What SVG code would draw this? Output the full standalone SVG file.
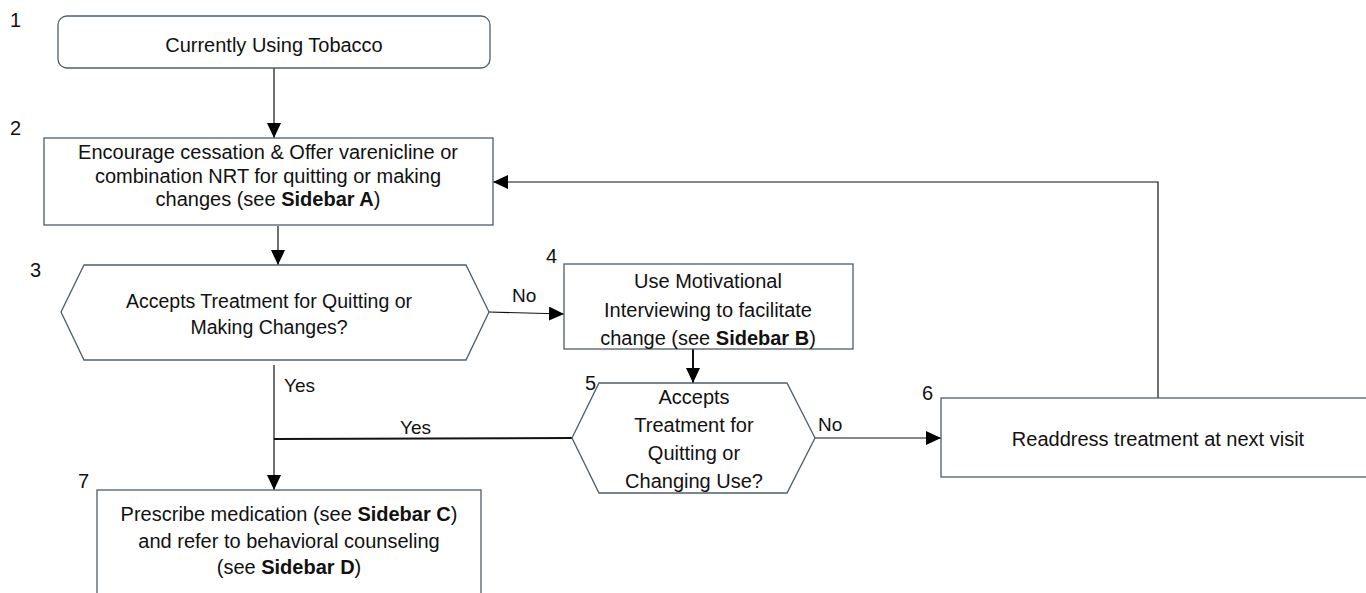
<svg xmlns="http://www.w3.org/2000/svg" width="1366" height="593" viewBox="0 0 1366 593">
<style>
text{font-family:"Liberation Sans",Arial,sans-serif;font-size:20px;fill:#111}
.c{text-anchor:middle}
.b{font-weight:bold}
.box{fill:#fff;stroke:#4d5d6b;stroke-width:1.3}
.ln{fill:none;stroke:#111;stroke-width:1.2}
.lbl{font-size:19px}
.num{font-size:20px}
</style>
<defs>
<marker id="ah" markerUnits="userSpaceOnUse" markerWidth="16" markerHeight="14" refX="15" refY="7" orient="auto">
<path d="M0,0 L15,7 L0,14 z" fill="#000"/>
</marker>
</defs>
<g id="connectors">
<line class="ln" x1="274" y1="68" x2="274" y2="138" marker-end="url(#ah)"/>
<path class="ln" d="M1158,398 L1158,182 L493,182" marker-end="url(#ah)"/>
<line class="ln" x1="278" y1="226" x2="278" y2="265" marker-end="url(#ah)"/>
<line class="ln" x1="489" y1="312" x2="564" y2="314" marker-end="url(#ah)"/>
<text class="lbl" x="512" y="302">No</text>
<line class="ln" x1="693" y1="349" x2="693" y2="383" marker-end="url(#ah)" style="stroke-width:2"/>
<line class="ln" x1="815" y1="438" x2="941" y2="438" marker-end="url(#ah)"/>
<text class="lbl" x="818" y="431">No</text>
<line class="ln" x1="274" y1="365" x2="274" y2="490" marker-end="url(#ah)"/>
<text class="lbl" x="284" y="392">Yes</text>
<line class="ln" x1="274" y1="439" x2="572" y2="438" style="stroke-width:2"/>
<text class="lbl" x="400" y="434">Yes</text>
</g>
<g id="n1">
<text class="num" x="10" y="27">1</text>
<rect class="box" x="58" y="16" width="432" height="52" rx="9"/>
<text class="c" x="274" y="52">Currently Using Tobacco</text>
</g>
<g id="n2">
<text class="num" x="10" y="135">2</text>
<rect class="box" x="44" y="138" width="449" height="87"/>
<text class="c" x="268" y="159">Encourage cessation &amp; Offer varenicline or</text>
<text class="c" x="268" y="183">combination NRT for quitting or making</text>
<text class="c" x="268" y="206">changes (see <tspan class="b">Sidebar A</tspan>)</text>
</g>
<g id="n3">
<text class="num" x="30" y="277">3</text>
<polygon class="box" points="61,312 84,265 466,265 489,312 466,360 84,360"/>
<text class="c" x="269" y="308" style="font-size:19.5px">Accepts Treatment for Quitting or</text>
<text class="c" x="269" y="334" style="font-size:19.5px">Making Changes?</text>
</g>
<g id="n4">
<text class="num" x="546" y="263">4</text>
<rect class="box" x="564" y="264" width="289" height="85"/>
<text class="c" x="708" y="288">Use Motivational</text>
<text class="c" x="708" y="317">Interviewing to facilitate</text>
<text class="c" x="708" y="345">change (see <tspan class="b">Sidebar B</tspan>)</text>
</g>
<g id="n5">
<text class="num" x="585" y="390">5</text>
<polygon class="box" points="572,438 599,383 787,383 815,438 787,493 599,493"/>
<text class="c" x="694" y="404">Accepts</text>
<text class="c" x="694" y="432">Treatment for</text>
<text class="c" x="694" y="460">Quitting or</text>
<text class="c" x="694" y="488">Changing Use?</text>
</g>
<g id="n6">
<text class="num" x="922" y="400">6</text>
<rect class="box" x="941" y="398" width="440" height="79"/>
<text class="c" x="1158" y="446">Readdress treatment at next visit</text>
</g>
<g id="n7">
<text class="num" x="78" y="488">7</text>
<rect class="box" x="97" y="490" width="384" height="120"/>
<text class="c" x="289" y="521">Prescribe medication (see <tspan class="b">Sidebar C</tspan>)</text>
<text class="c" x="289" y="548">and refer to behavioral counseling</text>
<text class="c" x="289" y="574">(see <tspan class="b">Sidebar D</tspan>)</text>
</g>
</svg>
